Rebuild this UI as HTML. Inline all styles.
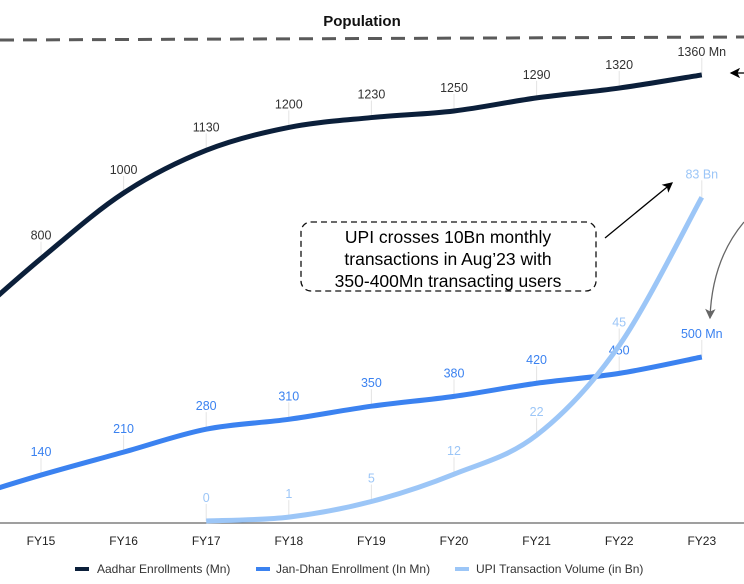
<!DOCTYPE html>
<html><head><meta charset="utf-8"><style>
body{margin:0;background:#fff;width:744px;height:584px;overflow:hidden;font-family:"Liberation Sans",sans-serif}
svg{display:block}
</style></head><body>
<svg id="chart" width="744" height="584" viewBox="0 0 744 584" xmlns="http://www.w3.org/2000/svg">
<defs>
<marker id="ah" markerWidth="8" markerHeight="8" refX="7" refY="4" orient="auto"><path d="M0,0 L8,4 L0,8 L2,4 Z" fill="#000"/></marker>
<marker id="ahg" markerWidth="8" markerHeight="8" refX="7" refY="4" orient="auto"><path d="M0,0 L8,4 L0,8 L2,4 Z" fill="#666"/></marker>
</defs>
<text x="362" y="26" text-anchor="middle" font-size="15" font-weight="bold" fill="#111">Population</text>
<line x1="0" y1="40" x2="744" y2="37" stroke="#5a5a5a" stroke-width="3" stroke-dasharray="14,9"/>
<line x1="0" y1="523" x2="744" y2="523" stroke="#666" stroke-width="1.2"/>
<g id="xaxis"></g>
<g id="series"></g>
<g>
<rect x="301" y="222" width="295" height="69" rx="10" fill="#fff" stroke="#111" stroke-width="1.3" stroke-dasharray="6,4"/>
<text x="448" y="243" text-anchor="middle" font-size="17.5" fill="#000"><tspan x="448">UPI crosses 10Bn monthly</tspan><tspan x="448" dy="22">transactions in Aug’23 with</tspan><tspan x="448" dy="22">350-400Mn transacting users</tspan></text>
</g>
<line x1="605" y1="238" x2="672" y2="183" stroke="#000" stroke-width="1.3" marker-end="url(#ah)"/>
<line x1="744" y1="73" x2="731" y2="73" stroke="#000" stroke-width="1.3" marker-end="url(#ah)"/>
<path d="M744,222 Q712,260 710,318" fill="none" stroke="#666" stroke-width="1.3" marker-end="url(#ahg)"/>
<g font-size="12" fill="#333">
<g><rect x="75" y="567" width="14" height="4" fill="#0b1f3a"/><text x="97" y="573">Aadhar Enrollments (Mn)</text></g>
<g><rect x="256" y="567" width="14" height="4" fill="#3b82f0"/><text x="276" y="573">Jan-Dhan Enrollment (In Mn)</text></g>
<g><rect x="455" y="567" width="14" height="4" fill="#9cc6f7"/><text x="476" y="573">UPI Transaction Volume (in Bn)</text></g>
</g>
</svg>
<script>
const categories=["FY15","FY16","FY17","FY18","FY19","FY20","FY21","FY22","FY23"];
const aadhar=[800,1000,1130,1200,1230,1250,1290,1320,1360];
const aadharLabels=["800","1000","1130","1200","1230","1250","1290","1320","1360 Mn"];
const jandhan=[140,210,280,310,350,380,420,450,500];
const jandhanLabels=["140","210","280","310","350","380","420","450","500 Mn"];
const upiCats=["FY17","FY18","FY19","FY20","FY21","FY22","FY23"];
const upi=[0,1,5,12,22,45,83];
const upiLabels=["0","1","5","12","22","45","83 Bn"];
const NS="http://www.w3.org/2000/svg";
function xPos(c){return 41+categories.indexOf(c)*82.6;}
function xIdx(i){return 41+i*82.6;}
function yMn(v){return 521-v*0.328;}
function yBn(v){return 521-v*3.9;}
function smooth(pts){
  let d="M"+pts[0][0]+","+pts[0][1];
  for(let i=0;i<pts.length-1;i++){
    const p0=pts[i-1]||pts[i],p1=pts[i],p2=pts[i+1],p3=pts[i+2]||p2;
    const c1x=p1[0]+(p2[0]-p0[0])/6,c1y=p1[1]+(p2[1]-p0[1])/6;
    const c2x=p2[0]-(p3[0]-p1[0])/6,c2y=p2[1]-(p3[1]-p1[1])/6;
    d+=" C"+c1x+","+c1y+" "+c2x+","+c2y+" "+p2[0]+","+p2[1];
  }
  return d;
}
const xg=document.getElementById("xaxis");
categories.forEach((c,i)=>{
  const t=document.createElementNS(NS,"text");
  
  
  t.setAttribute("x",xIdx(i));t.setAttribute("y",545);t.setAttribute("text-anchor","middle");
  t.setAttribute("font-size","12");t.setAttribute("fill","#222");t.textContent=c;xg.appendChild(t);
});
const sg=document.getElementById("series");
function drawSeries(name,xs,vals,labels,yf,color,w,lblColor,extend){
  let pts=xs.map((x,i)=>[x,yf(vals[i])]);
  if(extend){const a=pts[0],b=pts[1];pts.unshift([a[0]-82.6,a[1]+(a[1]-b[1])*1.1]);}
  const g=document.createElementNS(NS,"g");
  
  
  xs.forEach((x,i)=>{
    const y=yf(vals[i]);
    const l=document.createElementNS(NS,"line");
    
    
    l.setAttribute("x1",x);l.setAttribute("x2",x);l.setAttribute("y1",y-17);l.setAttribute("y2",y);
    l.setAttribute("stroke","#e4e4e4");l.setAttribute("stroke-width","1");g.appendChild(l);
    const t=document.createElementNS(NS,"text");
    
    
    t.setAttribute("x",x);t.setAttribute("y",y-19);t.setAttribute("text-anchor","middle");
    t.setAttribute("font-size","12.5");t.setAttribute("fill",lblColor);t.textContent=labels[i];g.appendChild(t);
  });
  const p=document.createElementNS(NS,"path");
  
  
  p.setAttribute("d",smooth(pts));p.setAttribute("fill","none");p.setAttribute("stroke",color);p.setAttribute("stroke-width",w);
  g.appendChild(p);
  sg.appendChild(g);
}
drawSeries("aadhar",categories.map(xPos),aadhar,aadharLabels,yMn,"#0b1f3a",5,"#333",true);
drawSeries("jandhan",categories.map(xPos),jandhan,jandhanLabels,yMn,"#3b82f0",5,"#3b82f0",true);
drawSeries("upi",upiCats.map(xPos),upi,upiLabels,yBn,"#9cc6f7",5,"#9cc6f7",false);
</script>
</body></html>
